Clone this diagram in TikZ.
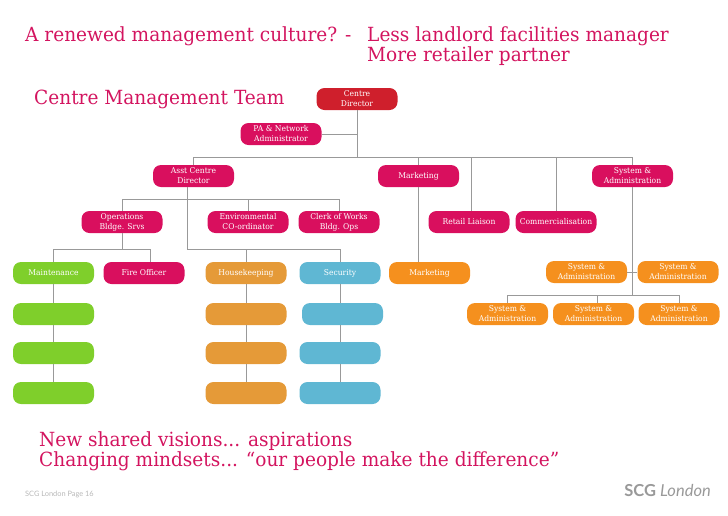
\documentclass[tikz,border=0pt]{standalone}
\usepackage{fontspec}
\setmainfont{DejaVu Serif}[FakeStretch=0.95]
\setsansfont{Lato}
\definecolor{headpink}{HTML}{D3145F}
\definecolor{boxpink}{HTML}{D90F5E}
\definecolor{boxred}{HTML}{CF1F2C}
\definecolor{boxgreen}{HTML}{7FCF2B}
\definecolor{boxsand}{HTML}{E59A38}
\definecolor{boxorange}{HTML}{F5901E}
\definecolor{boxblue}{HTML}{5FB7D3}
\definecolor{linegray}{HTML}{999999}
\tikzset{
	box/.style={rounded corners=8pt,minimum width=81pt,minimum height=22pt,inner sep=0pt,align=center,text=white,font=\fontsize{8}{10}\selectfont},
	pinkbox/.style={box,fill=boxpink},
	redbox/.style={box,fill=boxred},
	greenbox/.style={box,fill=boxgreen},
	sandbox/.style={box,fill=boxsand},
	orangebox/.style={box,fill=boxorange},
	bluebox/.style={box,fill=boxblue},
	heading/.style={anchor=base west,inner sep=0pt,text=headpink,font=\fontsize{19.5}{24}\selectfont},
	orgline/.style={draw=linegray,line width=1pt}
}
\begin{document}
\begin{tikzpicture}[x=1pt,y=-1pt]
		\useasboundingbox(0,0)rectangle(728,515);
		\node[heading] (title) at (25,41) {A renewed management culture? -};
		\node[heading] (less) at (367,41) {Less landlord facilities manager};
		\node[heading] (more) at (367,61) {More retailer partner};
		\node[heading] (team) at (34,104) {Centre Management Team};
		\node[heading] (visions) at (39,446) {New shared visions... aspirations};
		\node[heading] (mindsets) at (39,466) {Changing mindsets... “our people make the difference”};
		\node[anchor=base west,inner sep=0pt,text=linegray!70,font=\sffamily\fontsize{7.4}{8}\selectfont] (page) at (25,496) {SCG London Page 16};
		\node[anchor=base east,inner sep=0pt,text=linegray,font=\sffamily\fontsize{16.5}{18}\selectfont] (logo) at (711,496) {\textbf{SCG} \textit{London}};
		% top of the tree
		\node[redbox] (director) at (357,99) {Centre\\Director};
		\node[pinkbox] (pa) at (281,134) {PA \& Network\\Administrator};
		\node[pinkbox] (asst) at (193.5,176) {Asst Centre\\Director};
		\node[pinkbox] (marketing) at (418.5,176) {Marketing};
		\node[pinkbox] (system) at (632.5,176) {System \&\\Administration};
		\node[pinkbox] (ops) at (122,222) {Operations\\Bldge. Srvs};
		\node[pinkbox] (env) at (248,222) {Environmental\\CO-ordinator};
		\node[pinkbox] (clerk) at (339,222) {Clerk of Works\\Bldg. Ops};
		\node[pinkbox] (retail) at (469,222) {Retail Liaison};
		\node[pinkbox] (comm) at (556,222) {Commercialisation};
		% teams
		\node[greenbox] (maint) at (53.5,273) {Maintenance};
		\node[pinkbox] (fire) at (144,273) {Fire Officer};
		\node[sandbox] (house) at (246,273) {Housekeeping};
		\node[bluebox] (security) at (340,273) {Security};
		\node[orangebox] (market) at (429.5,273) {Marketing};
		\node[orangebox] (sysa) at (586.5,272) {System \&\\Administration};
		\node[orangebox] (sysb) at (678,272) {System \&\\Administration};
		\node[orangebox] (sysc) at (507.5,314) {System \&\\Administration};
		\node[orangebox] (sysd) at (593.5,314) {System \&\\Administration};
		\node[orangebox] (syse) at (679,314) {System \&\\Administration};
		\node[greenbox] (greena) at (53.5,314) {};
		\node[greenbox] (greenb) at (53.5,353) {};
		\node[greenbox] (greenc) at (53.5,393) {};
		\node[sandbox] (sanda) at (246,314) {};
		\node[sandbox] (sandb) at (246,353) {};
		\node[sandbox] (sandc) at (246,393) {};
		\node[bluebox] (bluea) at (342.5,314) {};
		\node[bluebox] (blueb) at (340,353) {};
		\node[bluebox] (bluec) at (340,393) {};
		% junctions of the lines
		\coordinate (mainbus) at (357,157);
		\coordinate (opsbus) at (122,199);
		\coordinate (asstdrop) at (187,249);
		\coordinate (teambus) at (122,249);
		\coordinate (sysbus) at (632.5,295);
		% lines
		\draw[orgline](director)--(mainbus);
		\draw[orgline](pa)--(director.south|-pa);
		\draw[orgline](asst.north)--(asst.north|-mainbus)--(system.north|-mainbus)--(system.north);
		\draw[orgline](marketing.north)--(marketing.north|-mainbus);
		\draw[orgline](marketing.south)--(marketing.south|-market.north);
		\draw[orgline](471.5,157)--(471.5,211);
		\draw[orgline](comm.north)--(comm.north|-mainbus);
		\draw[orgline](ops.north)--(opsbus)--(clerk.north|-opsbus)--(clerk.north);
		\draw[orgline](env.north)--(env.north|-opsbus);
		\draw[orgline](ops.south)--(teambus);
		\draw[orgline](maint.north)--(maint.north|-teambus)--(150,249)--(150,262);
		\draw[orgline](asstdrop|-asst.south)--(asstdrop)--(security.north|-asstdrop)--(security.north);
		\draw[orgline](house.north)--(house.north|-asstdrop);
		\draw[orgline](maint)--(greena)--(greenb)--(greenc);
		\draw[orgline](house)--(sanda)--(sandb)--(sandc);
		\draw[orgline](security.south)--(security.south|-bluea.north);
		\draw[orgline](blueb.north|-bluea.south)--(blueb.north);
		\draw[orgline](blueb)--(bluec);
		\draw[orgline](system.south)--(sysbus);
		\draw[orgline](sysa)--(sysb);
		\draw[orgline](sysc.north)--(sysc.north|-sysbus)--(syse.north|-sysbus)--(syse.north);
		\draw[orgline](597,295)--(597,303);
	\end{tikzpicture}
\end{document}
